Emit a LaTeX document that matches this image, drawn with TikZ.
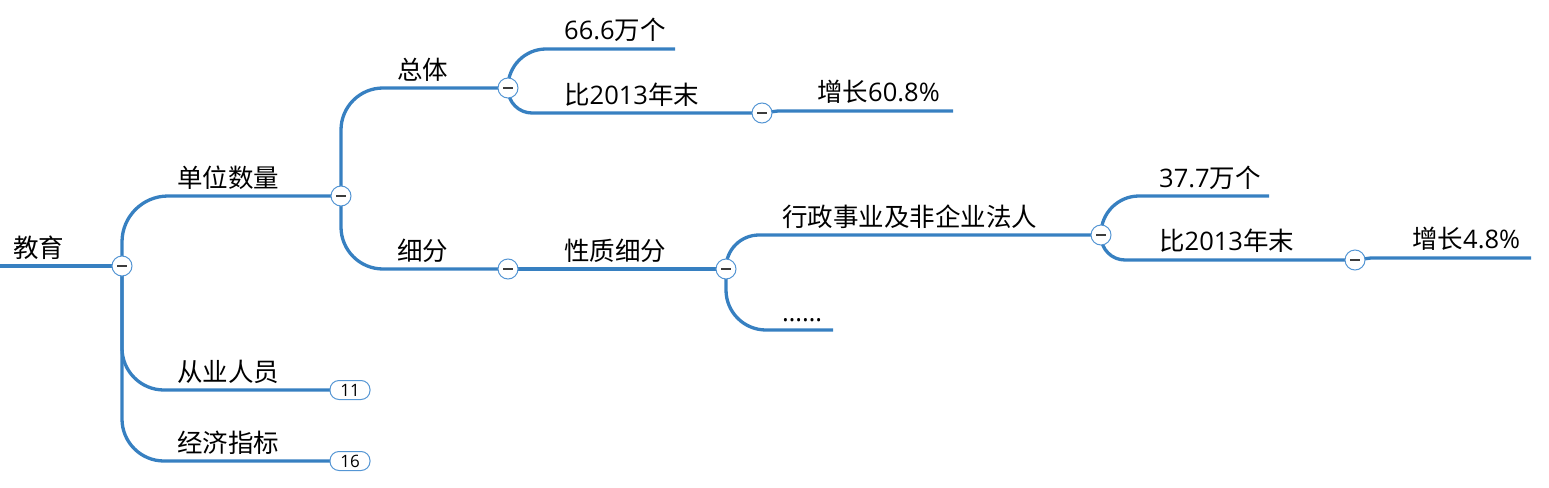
\documentclass[tikz,border=0pt]{standalone}
\usepackage{fontspec}
\setmainfont{Noto Sans CJK SC}
\newfontfamily\latinf{Open Sans}
\newcommand{\lt}[1]{{\latinf #1}}
\definecolor{lb}{RGB}{55,128,193}
\definecolor{cb}{RGB}{85,150,212}
\definecolor{mg}{RGB}{60,60,60}
\begin{document}
\begin{tikzpicture}[x=1pt,y=-1pt,
  br/.style={draw=lb,line width=3.3pt,rounded corners=42pt},
  lbl/.style={anchor=base west,inner sep=0pt,font=\fontsize{25.5}{30}\selectfont},
  tog/.style={circle,draw=cb,fill=white,line width=1pt,minimum size=20pt,inner sep=0pt,
    path picture={\draw[mg,line width=1.3pt] ([xshift=-5pt]path picture bounding box.center) -- ([xshift=5pt]path picture bounding box.center);}},
  badge/.style={rectangle,rounded corners=9pt,minimum width=40pt,minimum height=19pt,draw=cb,fill=white,line width=1pt,inner sep=0pt,font=\latinf\fontsize{17}{20}\selectfont}]
\useasboundingbox (0,0) rectangle (1549,487);
% positions
\coordinate (c0) at (122,266);
\coordinate (c1) at (341,196);
\coordinate (c2) at (508,88);
\coordinate (c3) at (508,269);
\coordinate (c4) at (762,113);
\coordinate (c5) at (726,269);
\coordinate (c6) at (1101,235);
\coordinate (c7) at (1355,260);
\coordinate (rootL) at (0,266);
\coordinate (bb1) at (350,390);
\coordinate (bb2) at (350,461);
\coordinate (e66) at (675,49);
\coordinate (e608) at (953,111);
\coordinate (edots) at (833,330);
\coordinate (e377) at (1269,196);
\coordinate (e48) at (1531,258);
% connectors
\draw[br] (c0) -- (rootL);
\draw[br,rounded corners=46pt] (c0) |- (c1);
\draw[br] (c0) |- (bb1);
\draw[br] (c0) |- (bb2);
\draw[br] (c1) |- (c2);
\draw[br] (c1) |- (c3);
\draw[br,rounded corners=38pt] (c2) |- (e66);
\draw[br,rounded corners=24pt] (c2) |- (c4);
\draw[br,rounded corners=0pt] (c4) -- ++(16,-2) -- (e608);
\draw[br] (c3) -- (c5);
\draw[br,rounded corners=33pt] (c5) |- (c6);
\draw[br,rounded corners=40pt] (c5) |- (edots);
\draw[br,rounded corners=38pt] (c6) |- (e377);
\draw[br,rounded corners=24pt] (c6) |- (c7);
\draw[br,rounded corners=0pt] (c7) -- ++(16,-2) -- (e48);
% toggles
\node[tog] (t0) at (c0) {};
\node[tog] (t1) at (c1) {};
\node[tog] (t2) at (c2) {};
\node[tog] (t3) at (c3) {};
\node[tog] (t4) at (c4) {};
\node[tog] (t5) at (c5) {};
\node[tog] (t6) at (c6) {};
\node[tog] (t7) at (c7) {};
\node[badge] (b1) at (bb1) {11};
\node[badge] (b2) at (bb2) {16};
% labels
\node[lbl] (l0) at (13,257) {教育};
\node[lbl] (l1) at (177,187) {单位数量};
\node[lbl] (l2) at (397,79) {总体};
\node[lbl] (l3) at (397,260) {细分};
\node[lbl] (l4) at (564,40) {\lt{66.6}万个};
\node[lbl] (l5) at (564,104) {比\lt{2013}年末};
\node[lbl] (l6) at (817,101) {增长\lt{60.8\%}};
\node[lbl] (l7) at (564,260) {性质细分};
\node[lbl] (l8) at (782,226) {行政事业及非企业法人};
\node[lbl,font=\latinf\fontsize{25.5}{30}\selectfont] (l9) at (782,321) {……};
\node[lbl] (l10) at (1159,187) {\lt{37.7}万个};
\node[lbl] (l11) at (1159,250) {比\lt{2013}年末};
\node[lbl] (l12) at (1412,248) {增长\lt{4.8\%}};
\node[lbl] (l13) at (177,381) {从业人员};
\node[lbl] (l14) at (177,452) {经济指标};
\end{tikzpicture}
\end{document}
